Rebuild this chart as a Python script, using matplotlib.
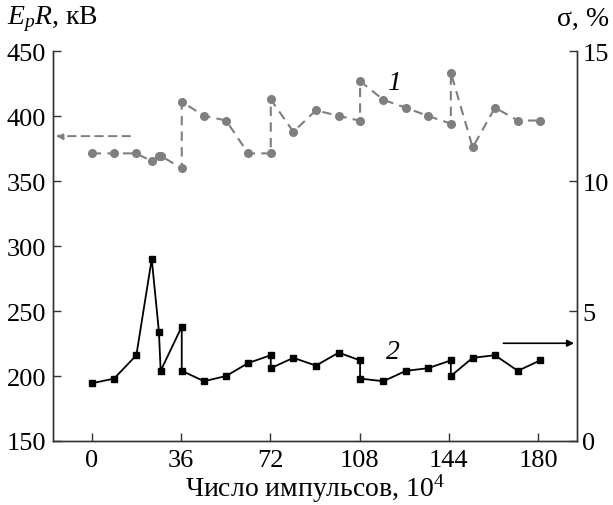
import numpy as np
import matplotlib
matplotlib.use("Agg")
import matplotlib.pyplot as plt

plt.rcParams['font.family'] = ['Liberation Serif', 'DejaVu Serif']
plt.rcParams['mathtext.fontset'] = 'custom'
plt.rcParams['mathtext.rm'] = 'Liberation Serif'
plt.rcParams['mathtext.it'] = 'Liberation Serif:italic'

# curve 1: E_p R, kV (left axis)
x1 = [0, 9, 18, 24.2, 27.1, 27.8, 36.3, 36.3, 45.3, 54.2, 63.1, 72.2, 72.2, 81.3,
      90.4, 99.6, 108.2, 108.2, 117.6, 126.7, 135.6, 144.8, 144.8, 153.6, 162.6,
      171.8, 180.8]
e1 = [371.3, 371.3, 371.3, 365.2, 369.5, 369.5, 359.7, 411.0, 400.2, 396.6, 371.3,
      371.3, 412.8, 387.9, 404.4, 400.2, 396.4, 426.9, 412.5, 406.4, 400.1, 394.2,
      433.4, 375.9, 406.5, 396.6, 396.6]

# curve 2: sigma, % (right axis)
x2 = [0, 9, 18, 24.2, 27.1, 27.8, 36.3, 36.3, 45.3, 54.2, 63.1, 72.2, 72.2, 81.3,
      90.4, 99.6, 108.2, 108.2, 117.6, 126.7, 135.6, 144.8, 144.8, 153.6, 162.6,
      171.8, 180.8]
s2 = [2.22, 2.4, 3.3, 7.0, 4.2, 2.7, 4.4, 2.7, 2.3, 2.5, 3.0, 3.3, 2.8, 3.2,
      2.9, 3.4, 3.1, 2.4, 2.3, 2.7, 2.8, 3.1, 2.5, 3.2, 3.3, 2.7, 3.1]

xticks = [0, 36, 72, 108, 144, 180]

fig = plt.figure(figsize=(6.13, 5.06), dpi=100)
ax = fig.add_axes([0.0865, 0.1265, 0.8545, 0.7705])
ax2 = ax.twinx()

gray = '#7f7f7f'
ax.plot(x1, e1, color=gray, lw=1.5, ls=(0, (4.5, 3)), marker='o', ms=5.5,
        markeredgecolor=gray, markerfacecolor=gray, zorder=3)
ax2.plot(x2, s2, color='black', lw=1.3, marker='s', ms=4.2, zorder=3)

ax.set_xlim(-15.6, 195.6)
ax.set_ylim(150, 450)
ax2.set_ylim(0, 15)
ax.set_xticks(xticks)
ax.set_yticks(range(150, 451, 50))
ax2.set_yticks([0, 5, 10, 15])

for a in (ax, ax2):
    a.spines['top'].set_visible(False)
    for s in a.spines.values():
        s.set_color('#333333')
        s.set_linewidth(1.0)
    a.tick_params(direction='in', length=6, width=1.0, labelsize=19, color='#333333')
ax.tick_params(axis='x', pad=6)
ax.tick_params(axis='y', pad=5)
ax2.tick_params(axis='y', pad=4)

ax.set_xlabel('Число импульсов, 10$^4$', fontsize=20, labelpad=0)
fig.text(0.012, 0.962, '$E_pR$, кВ', fontsize=20, ha='left', va='center')
fig.text(0.993, 0.962, 'σ, %', fontsize=20, ha='right', va='center')

# arrows pointing to the axes
ax.annotate('', xy=(-14.5, 384.6), xytext=(15.5, 384.6),
            arrowprops=dict(arrowstyle='-|>', color=gray, lw=1.4, ls=(0, (4, 3)),
                            shrinkA=0, shrinkB=0, mutation_scale=10))
ax2.annotate('', xy=(194.5, 3.76), xytext=(166, 3.76),
             arrowprops=dict(arrowstyle='-|>', color='black', lw=1.2,
                             shrinkA=0, shrinkB=0, mutation_scale=10))

ax.text(121.9, 426, '1', fontsize=20, style='italic', ha='center', va='center')
ax2.text(121.6, 3.46, '2', fontsize=20, style='italic', ha='center', va='center')

fig.savefig('out.png', dpi=100)
